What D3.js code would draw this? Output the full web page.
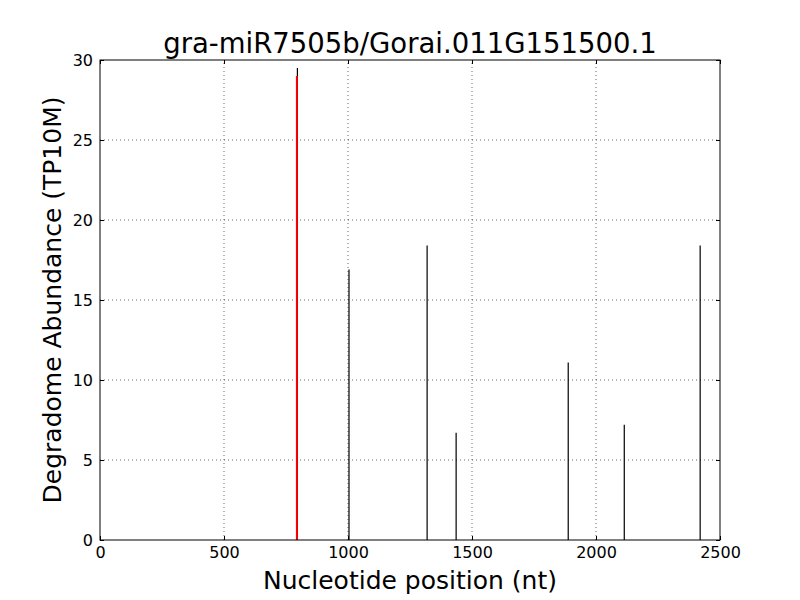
<!DOCTYPE html>
<html>
<head>
<meta charset="utf-8">
<script src="https://cdn.jsdelivr.net/npm/d3@7"></script>
<style>
  body { margin: 0; background: #fff; }
  text { font-family: "DejaVu Sans", sans-serif; }
</style>
</head>
<body>
<script>
// degradome peaks (position nt, abundance TP10M)
let positions = [796, 1004, 1319, 1436, 1888, 2114, 2420]
let abundances = [29.5, 16.9, 18.4, 6.7, 11.1, 7.2, 18.4]
// target site
let sitePos = [794]
let siteVal = [29.0]

let xTicks = [0, 500, 1000, 1500, 2000, 2500]
let yTicks = [0, 5, 10, 15, 20, 25, 30]

let w = 800
let h = 600
let m = {top: 60, right: 80, bottom: 60, left: 100}

let svg = d3.select("body").append("svg")
  .attr("width", w)
  .attr("height", h)

let x = d3.scaleLinear().domain([0, 2500]).range([m.left, w - m.right])
let y = d3.scaleLinear().domain([0, 30]).range([h - m.bottom, m.top])

// grid
svg.append("g")
  .selectAll("line")
  .data(xTicks.slice(1, -1))
  .enter()
  .append("line")
  .attr("x1", d => x(d)).attr("x2", d => x(d))
  .attr("y1", y(0)).attr("y2", y(30))
  .attr("stroke", "black").attr("stroke-width", 0.6)
  .attr("stroke-dasharray", "1,3")

svg.append("g")
  .selectAll("line")
  .data(yTicks.slice(1, -1))
  .enter()
  .append("line")
  .attr("x1", x(0)).attr("x2", x(2500))
  .attr("y1", d => y(d)).attr("y2", d => y(d))
  .attr("stroke", "black").attr("stroke-width", 0.6)
  .attr("stroke-dasharray", "1,3")

// peaks
svg.append("g")
  .selectAll("line")
  .data(positions.map((p, i) => [p, abundances[i]]))
  .enter()
  .append("line")
  .attr("x1", d => x(d[0])).attr("x2", d => x(d[0]))
  .attr("y1", y(0)).attr("y2", d => y(d[1]))
  .attr("stroke", "black").attr("stroke-width", 1.2)

svg.append("g")
  .selectAll("line")
  .data(sitePos.map((p, i) => [p, siteVal[i]]))
  .enter()
  .append("line")
  .attr("x1", d => x(d[0])).attr("x2", d => x(d[0]))
  .attr("y1", y(0)).attr("y2", d => y(d[1]))
  .attr("stroke", "red").attr("stroke-width", 2)

// axes, ticks pointing inward
let fmt = d3.format("d")
svg.append("g")
  .attr("transform", "translate(0," + y(0) + ")")
  .call(d3.axisBottom(x).tickValues(xTicks).tickSize(-4).tickPadding(7).tickFormat(fmt))
svg.append("g")
  .attr("transform", "translate(0," + y(30) + ")")
  .call(d3.axisTop(x).tickValues(xTicks).tickSize(-4).tickFormat(""))
svg.append("g")
  .attr("transform", "translate(" + x(0) + ",0)")
  .call(d3.axisLeft(y).tickValues(yTicks).tickSize(-4).tickPadding(7).tickFormat(fmt))
svg.append("g")
  .attr("transform", "translate(" + x(2500) + ",0)")
  .call(d3.axisRight(y).tickValues(yTicks).tickSize(-4).tickFormat(""))

svg.selectAll(".domain").remove()
svg.selectAll(".tick text").attr("font-size", 16).attr("fill", "black")
  .style("font-family", "DejaVu Sans")

// frame
svg.append("rect")
  .attr("x", x(0)).attr("y", y(30))
  .attr("width", x(2500) - x(0)).attr("height", y(0) - y(30))
  .attr("fill", "none").attr("stroke", "black").attr("stroke-width", 1)

svg.append("text")
  .text("gra-miR7505b/Gorai.011G151500.1")
  .attr("x", (x(0) + x(2500)) / 2).attr("y", 53)
  .attr("text-anchor", "middle").attr("font-size", 27.5)

svg.append("text")
  .text("Nucleotide position (nt)")
  .attr("x", (x(0) + x(2500)) / 2).attr("y", 589)
  .attr("text-anchor", "middle").attr("font-size", 25)

svg.append("text")
  .text("Degradome Abundance (TP10M)")
  .attr("transform", "translate(61," + (y(0) + y(30)) / 2 + ") rotate(-90)")
  .attr("text-anchor", "middle").attr("font-size", 25)
</script>
</body>
</html>
